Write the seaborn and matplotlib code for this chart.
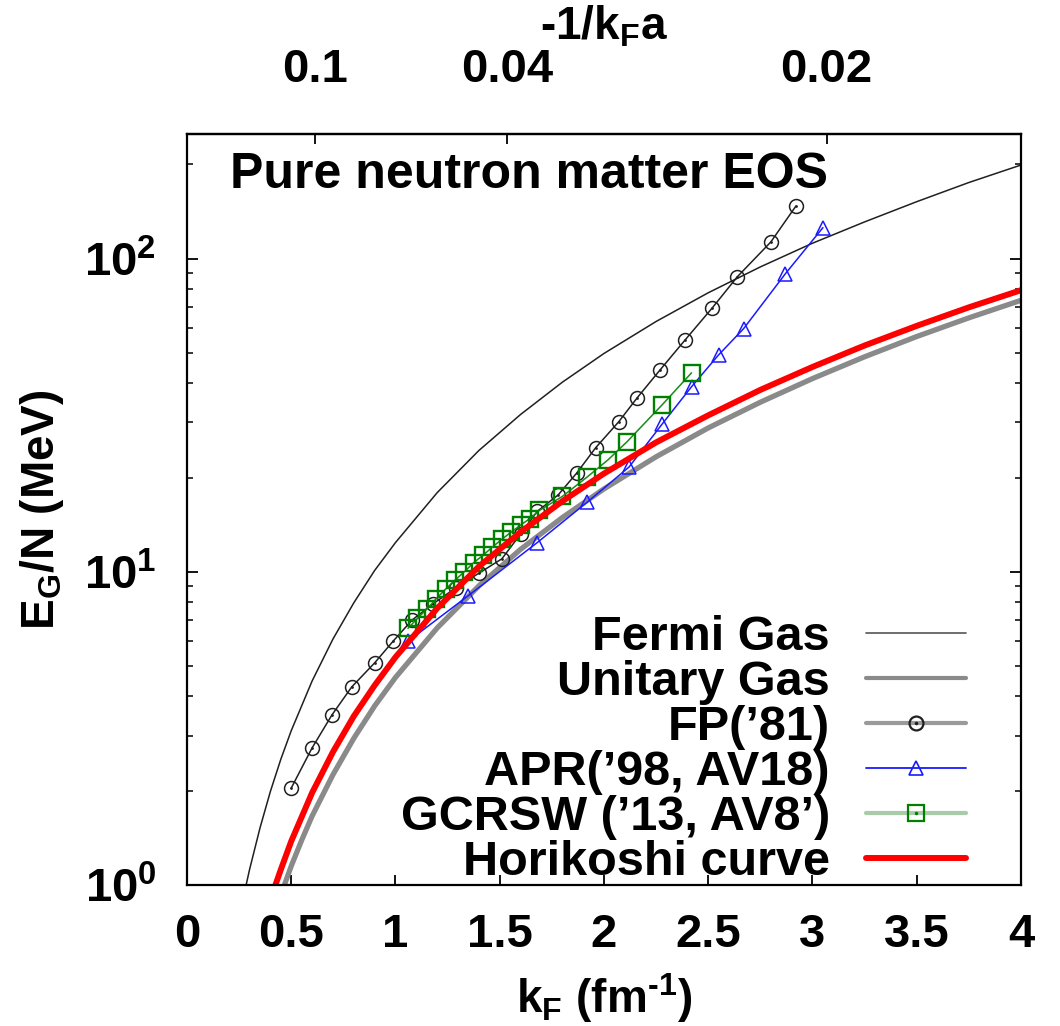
import numpy as np
import seaborn as sns
import matplotlib.pyplot as plt
from matplotlib.lines import Line2D
from matplotlib.ticker import FixedLocator, LogLocator, NullFormatter, NullLocator

# values (kF in fm^-1, E/N in MeV)
fermi_kf = [0.27, 0.30, 0.35, 0.40, 0.45, 0.50, 0.60, 0.70, 0.80, 0.90, 1.00, 1.20, 1.40,
            1.60, 1.80, 2.00, 2.25, 2.50, 2.75, 3.00, 3.25, 3.50, 3.75, 4.00]
fermi_e = [0.91, 1.12, 1.52, 1.99, 2.52, 3.11, 4.48, 6.10, 7.96, 10.1, 12.4, 17.9, 24.4,
           31.8, 40.3, 49.8, 63.0, 77.8, 94.1, 112, 131, 152, 175, 199]

unitary_kf = [0.45, 0.50, 0.55, 0.60, 0.70, 0.80, 0.90, 1.00, 1.20, 1.40, 1.60, 1.80, 2.00,
              2.25, 2.50, 2.75, 3.00, 3.25, 3.50, 3.75, 4.00]
unitary_e = [0.93, 1.15, 1.39, 1.66, 2.25, 2.94, 3.73, 4.60, 6.62, 9.02, 11.8, 14.9, 18.4,
             23.3, 28.8, 34.8, 41.4, 48.6, 56.4, 64.7, 73.6]

hori_kf = [0.41, 0.45, 0.50, 0.60, 0.70, 0.80, 0.90, 1.00, 1.20, 1.40, 1.60, 1.80, 2.00,
           2.25, 2.50, 2.75, 3.00, 3.25, 3.50, 3.75, 4.00]
hori_e = [0.94, 1.12, 1.38, 1.97, 2.66, 3.46, 4.34, 5.34, 7.65, 10.4, 13.4, 16.8, 20.6,
          25.9, 31.6, 38.1, 45.1, 52.8, 61.0, 69.9, 79.3]

fp_kf = [0.50, 0.60, 0.695, 0.79, 0.90, 0.99, 1.08, 1.18, 1.29, 1.40, 1.51, 1.60, 1.68,
         1.78, 1.87, 1.96, 2.07, 2.16, 2.27, 2.39, 2.52, 2.64, 2.80, 2.92]
fp_e = [2.04, 2.74, 3.49, 4.29, 5.12, 6.02, 7.02, 7.9, 8.9, 9.9, 11.0, 13.2, 15.6,
        17.6, 20.7, 24.9, 30.1, 36.0, 44.2, 55.1, 69.7, 87.6, 113, 147]

apr_kf = [1.06, 1.35, 1.68, 1.92, 2.12, 2.28, 2.42, 2.55, 2.67, 2.87, 3.05]
apr_e = [6.0, 8.4, 12.4, 16.7, 21.6, 29.7, 39.0, 49.3, 59.8, 89.5, 125.6]

gcrsw_kf = [1.06, 1.105, 1.15, 1.195, 1.24, 1.285, 1.33, 1.375, 1.42, 1.465, 1.51, 1.555,
            1.60, 1.645, 1.69, 1.80, 1.92, 2.02, 2.11, 2.28, 2.42]
gcrsw_e = [6.6, 7.1, 7.6, 8.2, 8.8, 9.4, 10.0, 10.7, 11.3, 12.0, 12.7, 13.4,
           14.1, 14.8, 15.7, 17.4, 20.1, 22.8, 26.0, 34.2, 43.2]

top_ticks = [0.1, 0.04, 0.02]
scat_len = 16.3  # |a| in fm used for the top axis

labels = ['Fermi Gas', 'Unitary Gas', 'FP(\u201981)', 'APR(\u201998, AV18)',
          'GCRSW (\u201913, AV8\u2019)', 'Horikoshi curve']

sns.set_theme(style='ticks')
plt.rcParams['font.family'] = ['Liberation Sans', 'DejaVu Sans']
plt.rcParams['font.weight'] = 'bold'
plt.rcParams['axes.labelweight'] = 'bold'
plt.rcParams['mathtext.fontset'] = 'custom'
plt.rcParams['mathtext.rm'] = 'Liberation Sans:bold'
plt.rcParams['mathtext.it'] = 'Liberation Sans:bold'
plt.rcParams['mathtext.bf'] = 'Liberation Sans:bold'
for key in ['text.color', 'axes.labelcolor', 'xtick.color', 'ytick.color', 'axes.edgecolor']:
    plt.rcParams[key] = 'black'

FS = 33       # axis labels
TICK_FS = 34  # tick labels
BIG_FS = 36   # title
LEG_FS = 35   # legend

fig = plt.figure(figsize=(10.6, 10.26), dpi=100)
ax = fig.add_axes([0.1764, 0.1374, 0.7868, 0.732])
ax.set_yscale('log')

sns.lineplot(x=fermi_kf, y=fermi_e, ax=ax, color='#202020', linewidth=1.1,
             sort=False, estimator=None)
sns.lineplot(x=unitary_kf, y=unitary_e, ax=ax, color='#8a8a8a', linewidth=3.8,
             sort=False, estimator=None)

sns.lineplot(x=fp_kf, y=fp_e, ax=ax, color='#202020', linewidth=1.1, marker='o',
             markersize=10, markerfacecolor='none', markeredgecolor='#202020',
             markeredgewidth=1.1, sort=False, estimator=None)
sns.scatterplot(x=fp_kf, y=fp_e, ax=ax, color='#202020', s=4, linewidth=0)

sns.lineplot(x=apr_kf, y=apr_e, ax=ax, color='#1a1aff', linewidth=1.1, marker='^',
             markersize=10, markerfacecolor='none', markeredgecolor='#1a1aff',
             markeredgewidth=1.1, sort=False, estimator=None)

sns.lineplot(x=gcrsw_kf, y=gcrsw_e, ax=ax, color='#1a8a1a', linewidth=1.1, marker='s',
             markersize=12, markerfacecolor='none', markeredgecolor='#008000',
             markeredgewidth=1.7, sort=False, estimator=None)

sns.lineplot(x=hori_kf, y=hori_e, ax=ax, color='#ff0000', linewidth=4.3,
             sort=False, estimator=None)

ax.set_xlim(0, 4)
ax.set_ylim(1, 250)

ax.xaxis.set_major_locator(FixedLocator(np.arange(0, 4.01, 0.5)))
ax.set_xticklabels(['0', '0.5', '1', '1.5', '2', '2.5', '3', '3.5', '4'])
ax.set_yticks([1, 10, 100])
ax.set_yticklabels([r'10$^0$', r'10$^1$', r'10$^2$'])
ax.yaxis.set_minor_locator(LogLocator(base=10, subs=np.arange(2, 10)))
ax.yaxis.set_minor_formatter(NullFormatter())
ax.xaxis.set_minor_locator(NullLocator())

ax.tick_params(axis='x', which='major', direction='in', length=7, width=1.3,
               labelsize=TICK_FS, pad=20, top=False)
ax.tick_params(axis='y', which='major', direction='in', length=8, width=1.3,
               labelsize=TICK_FS, pad=22, right=True)
ax.tick_params(axis='y', which='minor', direction='in', length=4.5, width=1.1,
               right=True)
for s in ax.spines.values():
    s.set_linewidth(1.6)
    s.set_color('black')

ax.set_xlabel(r'k$_F$ (fm$^{\text{-}1}$)', fontsize=FS, labelpad=10)
ax.set_ylabel(r'E$_G$/N (MeV)', fontsize=FS, labelpad=13)


def inv_kfa(x):
    # kF <-> -1/(kF a); the map is its own inverse
    x = np.array(x, float)
    near_zero = np.abs(x) < 1e-6
    x[near_zero] = 1e6
    x[~near_zero] = 1 / (scat_len * x[~near_zero])
    return x


secax = ax.secondary_xaxis('top', functions=(inv_kfa, inv_kfa))
secax.set_xticks(top_ticks)
secax.set_xticklabels(['0.1', '0.04', '0.02'])
secax.xaxis.set_minor_locator(NullLocator())
secax.tick_params(axis='x', direction='in', length=7, width=1.3, labelsize=TICK_FS,
                  pad=30)
secax.spines['top'].set_linewidth(1.6)
secax.set_xlabel(r'-1/k$_F$a', fontsize=FS, labelpad=6)

ax.text(0.052, 0.928, 'Pure neutron matter EOS', transform=ax.transAxes,
        fontsize=BIG_FS, fontweight='bold', va='baseline', ha='left')

dot = dict(marker='.', linestyle='none', markersize=3, color='#202020')
handles = [
    Line2D([], [], color='#555555', linewidth=1.2),
    Line2D([], [], color='#8a8a8a', linewidth=3),
    (Line2D([], [], color='#9a9a9a', linewidth=3),
     Line2D([], [], marker='o', linestyle='none', markersize=10, markerfacecolor='none',
            markeredgecolor='#202020', markeredgewidth=1.6),
     Line2D([], [], **dot)),
    Line2D([], [], color='#1a1aff', linewidth=1.3, marker='^', markersize=10,
           markerfacecolor='none', markeredgecolor='#1a1aff', markeredgewidth=1.2),
    (Line2D([], [], color='#a8cca8', linewidth=3),
     Line2D([], [], marker='s', linestyle='none', markersize=11, markerfacecolor='none',
            markeredgecolor='#008000', markeredgewidth=1.6),
     Line2D([], [], marker='.', linestyle='none', markersize=3, color='#008000')),
    Line2D([], [], color='#ff0000', linewidth=4.3),
]
ax.legend(handles, labels, loc='lower right', bbox_to_anchor=(0.934, 0.0),
          frameon=False, markerfirst=False, handlelength=2.05, handletextpad=0.75,
          labelspacing=0.0, borderpad=0, borderaxespad=0, fontsize=LEG_FS)

fig.savefig('out.png', dpi=100)
